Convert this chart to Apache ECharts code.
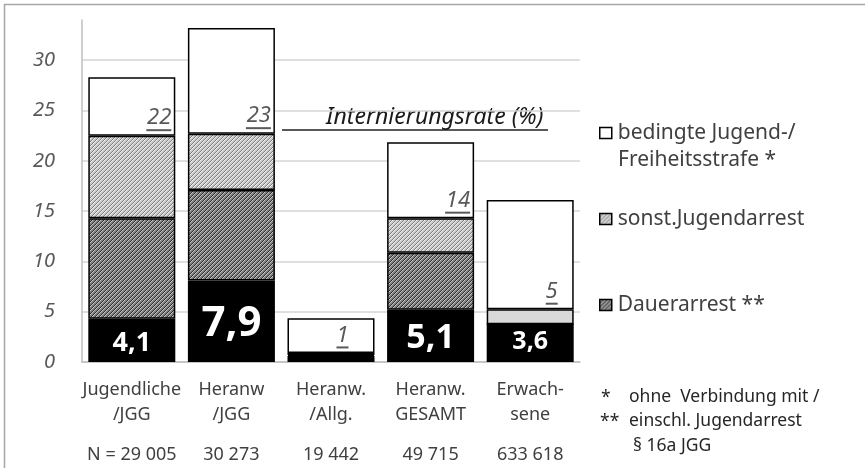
<!DOCTYPE html>
<html>
<head>
<meta charset="utf-8">
<script src="https://cdn.jsdelivr.net/npm/echarts@6/dist/echarts.min.js"></script>
<style>
  * { margin: 0; padding: 0; }
  body { background: #fff; }
</style>
</head>
<body>
<div id="main" style="width: 865px;height: 468px;background:#fff"></div>
<script>
// Kategorien und Fallzahlen
const categories = ['Jugendliche\n/JGG', 'Heranw\n/JGG', 'Heranw.\n/Allg.', 'Heranw.\nGESAMT', 'Erwach-\nsene'];
const counts = ['N = 29 005', '30 273', '19 442', '49 715', '633 618'];

// Segmente (Prozent), von unten nach oben
const unbedingtVals = [4.3, 8.1, 0.6, 5.2, 3.75];
const dauerVals = [10.0, 9.0, 0.1, 5.65, 0];
const sonstVals = [8.2, 5.6, 0.2, 3.45, 1.5];
const bedingtVals = [5.8, 10.5, 3.45, 7.55, 10.85];

// Beschriftungen
const unbedingtLabels = ['4,1', '7,9', '', '5,1', '3,6'];
const rateLabels = ['22', '23', '1', '14', '5'];
const yTicks = [0, 5, 10, 15, 20, 25, 30];

// Stil der Beschriftungen (nicht Daten)
const unbedingtLabelSize = [27, 42, 12, 34, 25];
const unbedingtLabelDy = [3, 3, 0, 2, -1];
const rateLabelDx = [0, 0, -22, 0, -12];

const FONT = '"Noto Sans", "Open Sans", sans-serif';

// Schraffur: diagonale Linien "/"
function hatch(bg, dark, light) {
  const size = 4;
  const c = document.createElement('canvas');
  c.width = size; c.height = size;
  const ctx = c.getContext('2d');
  ctx.fillStyle = bg;
  ctx.fillRect(0, 0, size, size);
  for (let i = 0; i < size; i++) {
    ctx.fillStyle = dark;
    ctx.fillRect(i, size - 1 - i, 1, 1);
    ctx.fillStyle = light;
    ctx.fillRect(i, (size - i) % size, 1, 1);
  }
  return { image: c, repeat: 'repeat' };
}

const sonstPattern = hatch('#c8c8c8', '#7f7f7f', '#f0f0f0');
const dauerPattern = hatch('#808080', '#2e2e2e', '#c4c4c4');

const chart = echarts.init(document.getElementById('main'));

const border = { borderColor: '#000', borderWidth: 1.5 };

chart.setOption({
  animation: false,
  grid: { left: 82, right: 285, top: 20, bottom: 106, containLabel: false },
  legend: {
    orient: 'vertical',
    left: 599,
    top: 121,
    padding: 0,
    icon: 'rect',
    itemWidth: 12,
    itemHeight: 11,
    itemGap: 62,
    selectedMode: false,
    data: ['bedingte Jugend-/', 'sonst.Jugendarrest', 'Dauerarrest **'],
    itemStyle: { borderColor: '#000', borderWidth: 1.5 },
    textStyle: { fontFamily: FONT, fontSize: 21, color: '#404040', lineHeight: 24, padding: [0, 0, 0, 1] }
  },
  xAxis: {
    type: 'category',
    data: categories,
    axisLine: { lineStyle: { color: '#bfbfbf', width: 1.5 } },
    axisTick: { show: false },
    axisLabel: {
      margin: 15,
      interval: 0,
      formatter: function (value, idx) {
        return value.split('\n').map(s => '{a|' + s + '}').join('\n') + '\n{n|' + counts[idx] + '}';
      },
      rich: {
        a: { fontFamily: FONT, fontSize: 18, color: '#404040', lineHeight: 25 },
        n: { fontFamily: FONT, fontSize: 18, color: '#404040', lineHeight: 55 }
      }
    }
  },
  yAxis: {
    type: 'value',
    min: 0,
    max: 34,
    interval: 5,
    axisLine: { show: true, lineStyle: { color: '#bfbfbf', width: 1.5 } },
    axisTick: { show: false },
    splitLine: { showMaxLine: false, lineStyle: { color: '#d4d4d4', width: 1.5 } },
    axisLabel: {
      margin: 27,
      showMaxLabel: false,
      fontFamily: FONT,
      fontSize: 20,
      fontStyle: 'italic',
      color: '#595959',
      formatter: v => (yTicks.indexOf(v) >= 0 ? String(v) : '')
    }
  },
  series: [
    {
      name: 'unbedingt',
      type: 'bar',
      stack: 'rate',
      barWidth: 87,
      itemStyle: Object.assign({ color: '#000' }, border),
      emphasis: { disabled: true },
      label: {
        show: true,
        position: 'inside',
        color: '#fff',
        fontFamily: FONT,
        fontWeight: 'bold',
        formatter: p => unbedingtLabels[p.dataIndex]
      },
      data: unbedingtVals.map((v, i) => ({
        value: v,
        label: { fontSize: unbedingtLabelSize[i], offset: [0, unbedingtLabelDy[i]] }
      }))
    },
    {
      name: 'Dauerarrest **',
      type: 'bar',
      stack: 'rate',
      itemStyle: Object.assign({ color: dauerPattern }, border),
      emphasis: { disabled: true },
      data: dauerVals
    },
    {
      name: 'sonst.Jugendarrest',
      type: 'bar',
      stack: 'rate',
      itemStyle: Object.assign({ color: sonstPattern }, border),
      emphasis: { disabled: true },
      data: sonstVals.map((v, i) => (i === 4 ? { value: v, itemStyle: { color: '#d9d9d9' } } : v))
    },
    {
      name: 'bedingte Jugend-/',
      type: 'bar',
      stack: 'rate',
      itemStyle: Object.assign({ color: '#fff' }, border),
      emphasis: { disabled: true },
      label: {
        show: true,
        position: 'insideBottomRight',
        distance: 4,
        align: 'right',
        formatter: p => '{t|' + rateLabels[p.dataIndex] + '}\n{u' + rateLabels[p.dataIndex].length + '|}',
        rich: {
          t: { fontFamily: FONT, fontSize: 22, fontStyle: 'italic', color: '#595959', lineHeight: 21, align: 'right' },
          u1: { width: 12, height: 2, lineHeight: 3, backgroundColor: '#595959', align: 'right' },
          u2: { width: 25, height: 2, lineHeight: 3, backgroundColor: '#595959', align: 'right' }
        }
      },
      data: bedingtVals.map((v, i) => ({ value: v, label: { offset: [rateLabelDx[i], 0] } }))
    }
  ],
  graphic: [
    {
      type: 'rect', z: -10, silent: true,
      shape: { x: 4.5, y: 4.5, width: 900, height: 500 },
      style: { fill: 'transparent', stroke: '#a6a6a6', lineWidth: 1.5 }
    },
    {
      type: 'text', x: 326, y: 117, silent: true,
      style: { text: 'Internierungsrate (%)', fontFamily: FONT, fontSize: 23, fontStyle: 'italic', fill: '#1a1a1a', verticalAlign: 'middle' }
    },
    {
      type: 'line', silent: true,
      shape: { x1: 282, y1: 130, x2: 548, y2: 130 },
      style: { stroke: '#222', lineWidth: 1.5 }
    },
    {
      type: 'text', x: 618, y: 160, silent: true,
      style: { text: 'Freiheitsstrafe *', fontFamily: FONT, fontSize: 21, fill: '#404040', verticalAlign: 'middle' }
    },
    {
      type: 'text', x: 601, y: 398, silent: true,
      style: { text: '*', fontFamily: FONT, fontSize: 17.5, fill: '#262626', verticalAlign: 'middle' }
    },
    {
      type: 'text', x: 629, y: 397, silent: true,
      style: { text: 'ohne  Verbindung mit /', fontFamily: FONT, fontSize: 17.5, fill: '#262626', verticalAlign: 'middle' }
    },
    {
      type: 'text', x: 600, y: 422, silent: true,
      style: { text: '**', fontFamily: FONT, fontSize: 17.5, fill: '#262626', verticalAlign: 'middle' }
    },
    {
      type: 'text', x: 629, y: 421, silent: true,
      style: { text: 'einschl. Jugendarrest', fontFamily: FONT, fontSize: 17.5, fill: '#262626', verticalAlign: 'middle' }
    },
    {
      type: 'text', x: 633, y: 446, silent: true,
      style: { text: '§ 16a JGG', fontFamily: FONT, fontSize: 17.5, fill: '#262626', verticalAlign: 'middle' }
    }
  ]
});
</script>
</body>
</html>
